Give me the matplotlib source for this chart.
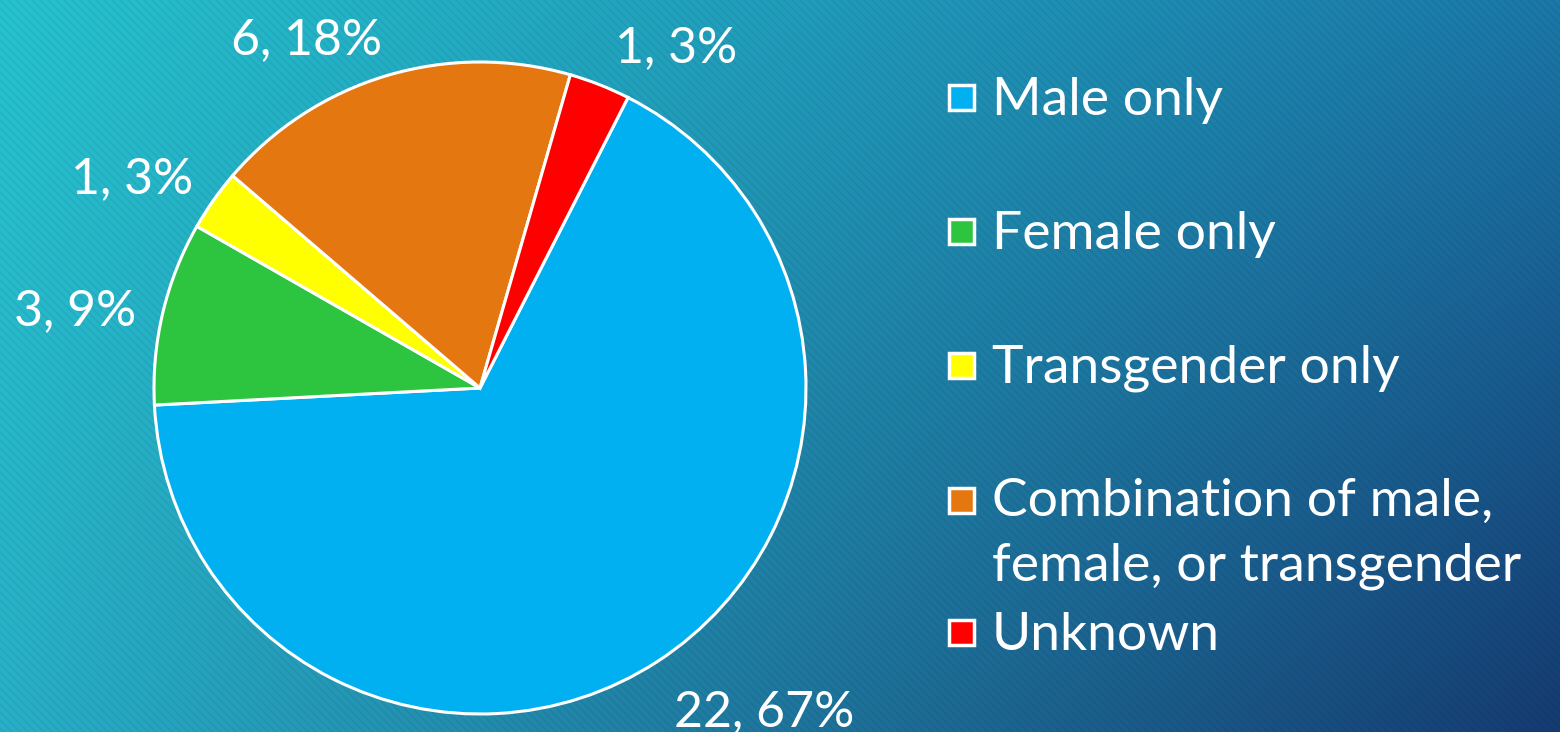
import numpy as np
import matplotlib
matplotlib.use("Agg")
import matplotlib.pyplot as plt
from matplotlib.patches import Rectangle

categories = ["Male only", "Female only", "Transgender only",
              "Combination of male,\nfemale, or transgender", "Unknown"]
counts = [22, 3, 1, 6, 1]
colors = ["#00b0f0", "#2dc53f", "#ffff00", "#e57710", "#ff0000"]

W, H = 1560, 732
fig = plt.figure(figsize=(W / 100, H / 100), dpi=100)

# background: bilinear gradient between corner colours with fine diagonal stripes
bg = fig.add_axes([0, 0, 1, 1])
yy, xx = np.mgrid[0:H, 0:W]
u = (xx / (W - 1))[..., None]
v = (yy / (H - 1))[..., None]
tl = np.array([0x26, 0xc3, 0xcf]) / 255
tr = np.array([0x1b, 0x78, 0xa8]) / 255
bl = np.array([0x28, 0xb0, 0xc8]) / 255
br = np.array([0x15, 0x3b, 0x72]) / 255
img = (tl * (1 - u) + tr * u) * (1 - v) + (bl * (1 - u) + br * u) * v
stripe = 0.5 + 0.5 * np.cos(2 * np.pi * (xx - yy) / 8.0)
img = img * (1 - 0.06 * stripe[..., None] ** 3)
bg.imshow(np.clip(img, 0, 1), aspect="auto", extent=[0, W, H, 0], interpolation="nearest")
bg.set_xlim(0, W)
bg.set_ylim(H, 0)
bg.axis("off")

font = ["Lato", "DejaVu Sans"]
fw = "normal"

# pie
ax = fig.add_axes([154 / W, 18 / H, 652 / W, 652 / H])
wedges, _ = ax.pie(counts, colors=colors, startangle=63, counterclock=False,
                   radius=1.0, wedgeprops=dict(edgecolor="white", linewidth=2.2))
ax.set_xlim(-1, 1)
ax.set_ylim(-1, 1)
ax.set_aspect("equal")
ax.axis("off")

total = sum(counts)
label_angle_shift = [8.5, 2.2, 3.9, 9.7, -8.2]
label_dist = [1.315, 1.265, 1.25, 1.20, 1.21]
for w, n, sh, d in zip(wedges, counts, label_angle_shift, label_dist):
    mid = np.deg2rad((w.theta1 + w.theta2) / 2 + sh)
    ax.text(d * np.cos(mid), d * np.sin(mid) - 0.008, f"{n}, {round(100 * n / total)}%",
            ha="center", va="center", color="white", fontsize=36,
            family=font, weight=fw)

# legend drawn manually
leg_y = [97, 231, 365, 500, 632]
for c, lab, y in zip(colors, categories, leg_y):
    bg.add_patch(Rectangle((949, y - 12), 25, 25, facecolor=c,
                           edgecolor="white", linewidth=2.5))
    if "\n" in lab:
        bg.text(992, y - 22, lab, ha="left", va="top", color="white",
                fontsize=38.5, family=font, weight=fw, linespacing=1.45)
    else:
        bg.text(992, y + 3, lab, ha="left", va="center", color="white",
                fontsize=38.5, family=font, weight=fw)

fig.savefig("out.png", dpi=100)
